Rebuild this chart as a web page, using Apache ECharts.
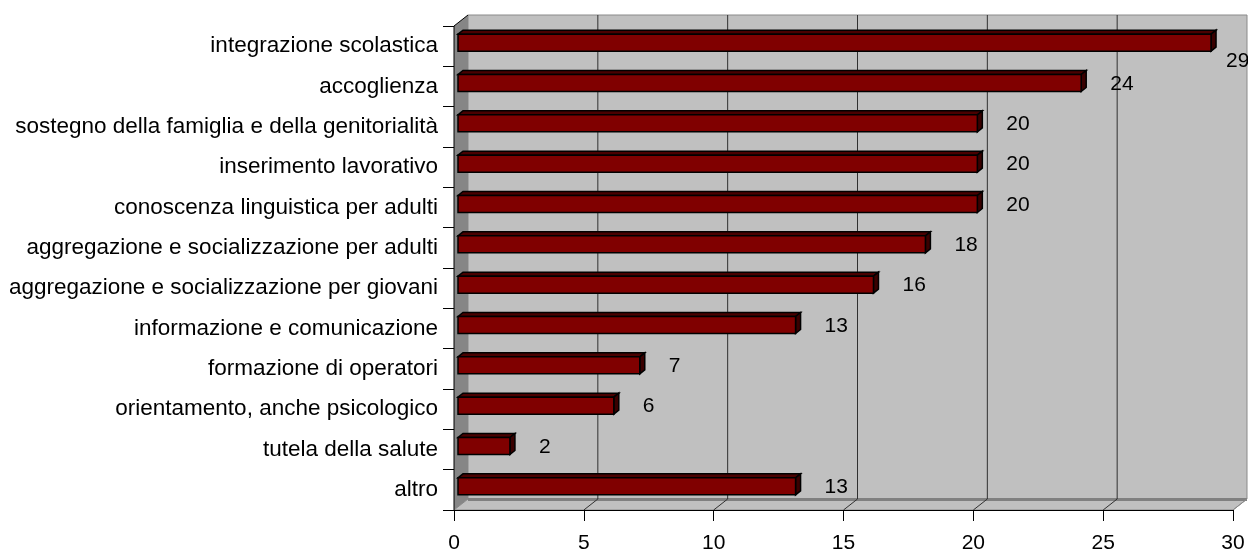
<!DOCTYPE html>
<html>
<head>
<meta charset="utf-8">
<script src="https://cdn.jsdelivr.net/npm/echarts@6/dist/echarts.min.js"></script>
<style>
  html, body { margin: 0; padding: 0; background: #fff; }
  #chart { width: 1248px; height: 554px; }
</style>
</head>
<body>
<div id="chart"></div>
<script>
// Ambiti di intervento: number of projects per area
const categories = [
  'integrazione scolastica',
  'accoglienza',
  'sostegno della famiglia e della genitorialità',
  'inserimento lavorativo',
  'conoscenza linguistica per adulti',
  'aggregazione e socializzazione per adulti',
  'aggregazione e socializzazione per giovani',
  'informazione e comunicazione',
  'formazione di operatori',
  'orientamento, anche psicologico',
  'tutela della salute',
  'altro'
];
const values = [29, 24, 20, 20, 20, 18, 16, 13, 7, 6, 2, 13];
const xTicks = [0, 5, 10, 15, 20, 25, 30];

const FONT = "'Liberation Sans', Arial, sans-serif";
const FONT_SIZE = 22.5;
const VALUE_FONT_SIZE = 21;

// Perspective offset of the back wall relative to the front plane
const DX = 14, DY = -11;
// Bar depth and its position inside the plot depth
const BDX = 5, BDY = -4;
const BAR_SHIFT_X = 4, BAR_SHIFT_Y = -3.5;
const BAR_H = 17;
const LABEL_GAP = 29;

const chart = echarts.init(document.getElementById('chart'), null, { renderer: 'canvas' });

function renderWalls(params, api) {
  const cs = params.coordSys;
  const L = cs.x, T = cs.y, R = cs.x + cs.width, B = cs.y + cs.height;
  const children = [];
  // back wall
  children.push({
    type: 'rect',
    shape: { x: L + DX, y: T + DY, width: cs.width, height: cs.height },
    style: { fill: '#C0C0C0', stroke: '#8a8a8a', lineWidth: 1 }
  });
  // floor
  children.push({
    type: 'polygon',
    shape: { points: [[L, B], [L + DX, B + DY], [R + DX, B + DY], [R, B]] },
    style: { fill: '#C0C0C0', stroke: '#8a8a8a', lineWidth: 1 }
  });
  // floor/back wall seam
  children.push({
    type: 'line',
    shape: { x1: L + DX, y1: B + DY + 0.5, x2: R + DX, y2: B + DY + 0.5 },
    style: { stroke: '#808080', lineWidth: 3 }
  });
  // grid lines on back wall and floor
  xTicks.forEach(function (v) {
    const x = api.coord([v, 0])[0];
    if (v !== xTicks[0] && v !== xTicks[xTicks.length - 1]) {
      children.push({
        type: 'line',
        shape: { x1: x + DX, y1: T + DY, x2: x + DX, y2: B + DY },
        style: { stroke: '#303030', lineWidth: 1 }
      });
    }
    if (v !== xTicks[0]) {
      children.push({
        type: 'line',
        shape: { x1: x, y1: B, x2: x + DX, y2: B + DY },
        style: { stroke: v === xTicks[xTicks.length - 1] ? '#8a8a8a' : '#303030', lineWidth: 1 }
      });
    }
  });
  // left side wall
  children.push({
    type: 'polygon',
    shape: { points: [[L, T], [L + DX, T + DY], [L + DX, B + DY], [L, B]] },
    style: { fill: '#868686', stroke: null }
  });
  children.push({
    type: 'polyline',
    shape: { points: [[L, B], [L, T], [L + DX, T + DY]] },
    style: { stroke: '#000', lineWidth: 1, fill: null }
  });
  return { type: 'group', children: children };
}

function renderBar(params, api) {
  const v = api.value(0);
  const idx = api.value(1);
  const start = api.coord([0, idx]);
  const end = api.coord([v, idx]);
  const cy = end[1] + BAR_SHIFT_Y;
  const x0 = start[0] + BAR_SHIFT_X;
  const x1 = end[0] + BAR_SHIFT_X;
  const y0 = cy - BAR_H / 2;
  const y1 = cy + BAR_H / 2;
  const edge = { stroke: '#000', lineWidth: 1.5, lineJoin: 'miter' };

  const text = String(v);
  const textW = text.length * VALUE_FONT_SIZE * 0.556;
  let lx = x1 + LABEL_GAP;
  let ly = cy + 1;
  // a label that would leave the chart is tucked below the bar end
  if (lx + textW > api.getWidth()) {
    lx = x1 + 15;
    ly = cy + 19;
  }

  return {
    type: 'group',
    children: [
      {
        type: 'polygon',
        shape: { points: [[x0, y0], [x0 + BDX, y0 + BDY], [x1 + BDX, y0 + BDY], [x1, y0]] },
        style: Object.assign({ fill: '#4a0000' }, edge)
      },
      {
        type: 'polygon',
        shape: { points: [[x1, y0], [x1 + BDX, y0 + BDY], [x1 + BDX, y1 + BDY], [x1, y1]] },
        style: Object.assign({ fill: '#3a0000' }, edge)
      },
      {
        type: 'rect',
        shape: { x: x0, y: y0, width: x1 - x0, height: y1 - y0 },
        style: Object.assign({ fill: '#800000' }, edge)
      },
      {
        type: 'text',
        x: lx,
        y: ly,
        style: {
          text: text,
          fill: '#000',
          font: VALUE_FONT_SIZE + 'px ' + FONT,
          textAlign: 'left',
          textVerticalAlign: 'middle'
        }
      }
    ]
  };
}

const option = {
  backgroundColor: '#ffffff',
  animation: false,
  grid: { left: 454, right: 15, top: 26, bottom: 39, containLabel: false },
  xAxis: {
    type: 'value',
    min: xTicks[0],
    max: xTicks[xTicks.length - 1],
    interval: xTicks[1] - xTicks[0],
    axisLine: { show: true, lineStyle: { color: '#000', width: 1 } },
    axisTick: { show: true, length: 11, lineStyle: { color: '#000', width: 1 } },
    axisLabel: { show: true, color: '#000', fontSize: VALUE_FONT_SIZE, fontFamily: FONT, margin: 23 },
    splitLine: { show: false },
    z: 10
  },
  yAxis: {
    type: 'category',
    inverse: true,
    data: categories,
    axisLine: { show: false },
    axisTick: { show: true, length: 11, lineStyle: { color: '#000', width: 1 } },
    axisLabel: { show: true, color: '#000', fontSize: FONT_SIZE, fontFamily: FONT, margin: 16 },
    splitLine: { show: false }
  },
  series: [
    {
      type: 'custom',
      renderItem: renderWalls,
      data: [[0, 0]],
      silent: true,
      clip: false,
      z: 1
    },
    {
      type: 'custom',
      renderItem: renderBar,
      data: values.map(function (v, i) { return [v, i]; }),
      clip: false,
      z: 5
    }
  ]
};

chart.setOption(option);
</script>
</body>
</html>
